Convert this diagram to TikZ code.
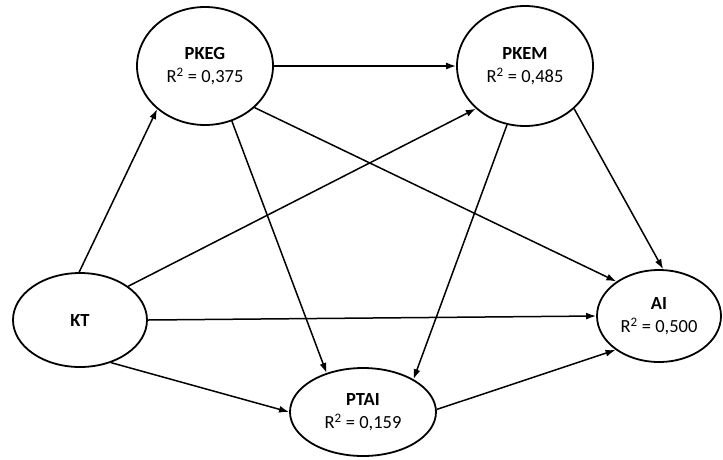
\documentclass[tikz,border=0pt]{standalone}
\usepackage{fontspec}
\setmainfont{Carlito}
\usetikzlibrary{shapes.geometric,arrows.meta}

\tikzset{
  construct/.style={ellipse, draw=black, line width=1.8pt, fill=white,
    inner sep=0pt, align=center, font=\fontsize{18.5}{23}\selectfont},
  path/.style={line width=1.5pt, -{Latex[length=10pt,width=7pt]}}
}
\newcommand{\rsq}[1]{R\textsuperscript{2} = #1}

\begin{document}
\begin{tikzpicture}[x=1pt,y=-1pt]
  \useasboundingbox (0,0) rectangle (723,459);

  % latent constructs
  \node[construct, minimum width=136pt, minimum height=118pt] (pkeg) at (205,66)
    {\textbf{PKEG}\\\rsq{0,375}};
  \node[construct, minimum width=136pt, minimum height=120pt] (pkem) at (525,66)
    {\textbf{PKEM}\\\rsq{0,485}};
  \node[construct, minimum width=134pt, minimum height=94pt] (kt) at (80,320)
    {\textbf{KT}};
  \node[construct, minimum width=124pt, minimum height=92pt] (ai) at (659,316)
    {\textbf{AI}\\\rsq{0,500}};
  \node[construct, minimum width=146pt, minimum height=88pt] (ptai) at (363,412)
    {\textbf{PTAI}\\\rsq{0,159}};

  % structural paths
  \draw[path] (kt.91) -- (pkeg.222);
  \draw[path] (kt.35) -- (pkem.221);
  \draw[path] (kt.0) -- (ai.180);
  \draw[path] (kt.-54) -- (ptai.180);
  \draw[path] (pkeg.0) -- (pkem.180);
  \draw[path] (pkeg.-40) -- (ai.141);
  \draw[path] (pkeg.-64) -- (ptai.133);
  \draw[path] (pkem.-41) -- (ai.85);
  \draw[path] (pkem.253) -- (ptai.33);
  \draw[path] (ptai.2) -- (ai.218);
\end{tikzpicture}
\end{document}
